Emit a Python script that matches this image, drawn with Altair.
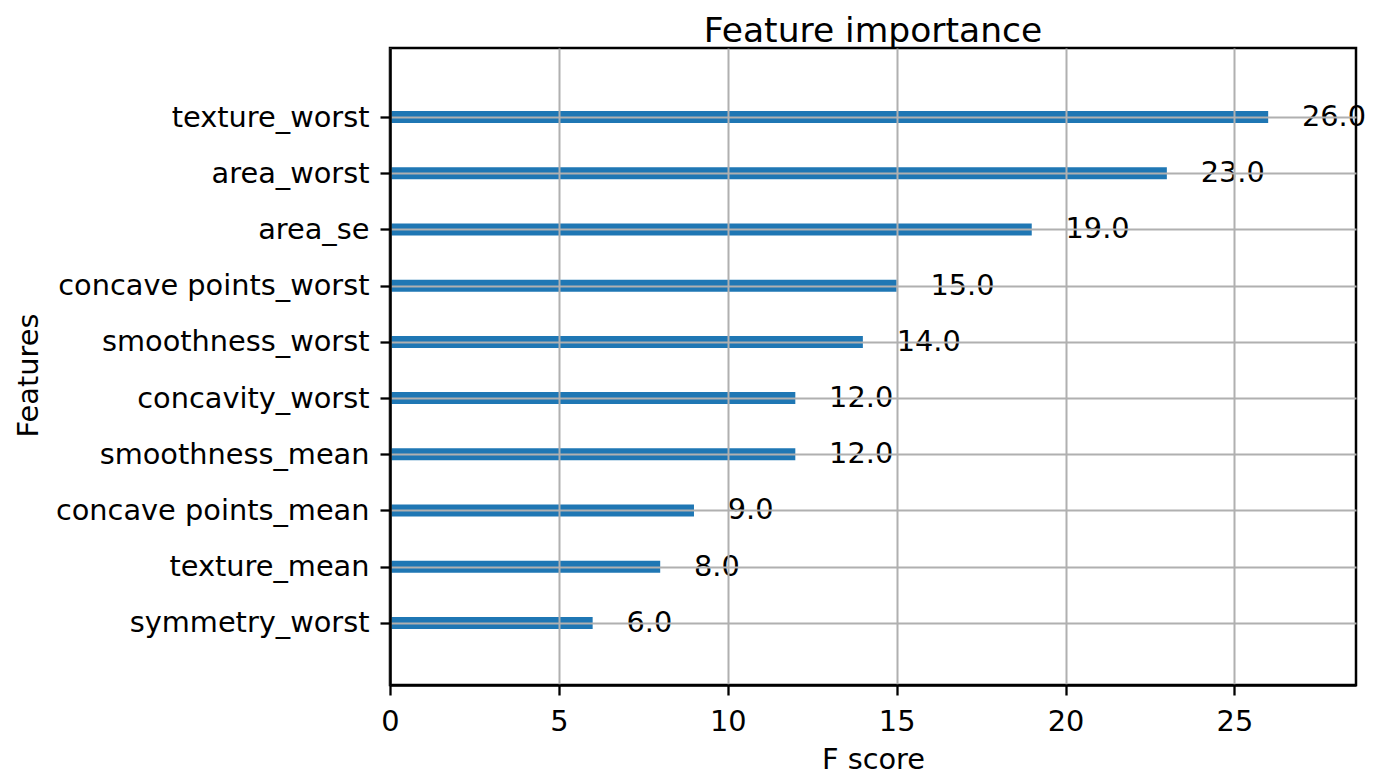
import json
import altair as alt
import pandas as pd

features = ["texture_worst", "area_worst", "area_se", "concave points_worst",
            "smoothness_worst", "concavity_worst", "smoothness_mean",
            "concave points_mean", "texture_mean", "symmetry_worst"]
scores = [26, 23, 19, 15, 14, 12, 12, 9, 8, 6]
x_ticks = [0, 5, 10, 15, 20, 25]

n = len(features)
df = pd.DataFrame({"feature": features, "score": scores,
                   "pos": [n - 1 - i for i in range(n)]})
label_expr = json.dumps(list(reversed(features))) + "[datum.value]"

FONT = "DejaVu Sans"
BLUE = "#1f77b4"
GRID = "#b0b0b0"
FS = 28.8

x_axis = alt.Axis(values=x_ticks, title="F score", format="d", grid=True,
                  gridColor=GRID, gridWidth=2, domainColor="black", domainWidth=2.5,
                  tickColor="black", tickWidth=2.3, tickSize=10,
                  labelFont=FONT, labelFontSize=FS, labelColor="black",
                  labelBaseline="alphabetic", labelPadding=35, labelFlush=False,
                  labelOverlap=False, labelLimit=0,
                  titleFont=FONT, titleFontSize=FS, titleFontWeight="normal",
                  titleColor="black", titleBaseline="alphabetic", titleY=83,
                  zindex=1)
y_axis = alt.Axis(values=list(range(n)), labelExpr=label_expr, title="Features",
                  grid=True, gridColor=GRID, gridWidth=2,
                  domainColor="black", domainWidth=2.5,
                  tickColor="black", tickWidth=2.3, tickSize=10,
                  labelFont=FONT, labelFontSize=FS, labelColor="black",
                  labelAlign="right", labelBaseline="middle", labelPadding=11,
                  labelFlush=False, labelOverlap=False, labelLimit=0,
                  titleFont=FONT, titleFontSize=FS, titleFontWeight="normal",
                  titleColor="black", titleAngle=270, titleBaseline="alphabetic",
                  titleX=-353, titleY=327, zindex=1)

x_scale = alt.Scale(domain=[0, 28.6], nice=False, zero=True)
y_scale = alt.Scale(domain=[-1.016, 10.14], nice=False, zero=False)

base = alt.Chart(df)

bars = base.mark_bar(orient="horizontal", size=12, color=BLUE).encode(
    x=alt.X("score:Q", scale=x_scale, axis=x_axis),
    y=alt.Y("pos:Q", scale=y_scale, axis=y_axis),
)

labels = base.transform_calculate(
    tx="datum.score + 1", lbl="format(datum.score, '.1f')"
).mark_text(align="left", baseline="middle", font=FONT, fontSize=FS,
            color="black").encode(
    x=alt.X("tx:Q", scale=x_scale, axis=x_axis),
    y=alt.Y("pos:Q", scale=y_scale, axis=y_axis),
    text="lbl:N",
)

chart = alt.layer(bars, labels).properties(
    width=966, height=637,
    autosize=alt.AutoSizeParams(type="none"),
    padding={"left": 382, "top": 40, "right": 30, "bottom": 85},
    title=alt.Title("Feature importance", font=FONT, fontSize=34.5,
                    fontWeight="normal", color="black", anchor="middle",
                    baseline="bottom", offset=1, dy=36),
).configure_view(stroke="black", strokeWidth=2.5)

chart.save("out.html", embed_options={"renderer": "svg", "actions": False})
